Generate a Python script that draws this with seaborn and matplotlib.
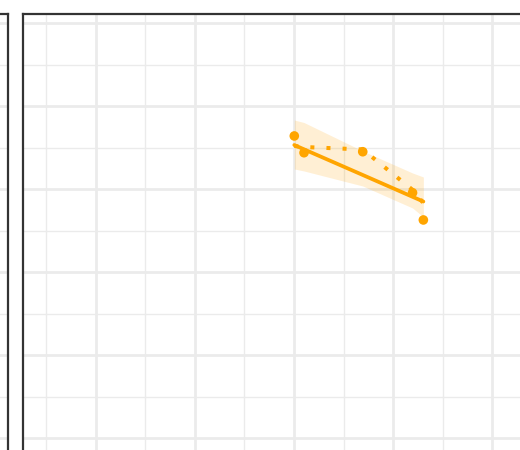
import numpy as np
import pandas as pd
import matplotlib
matplotlib.use("Agg")
import matplotlib.pyplot as plt
from matplotlib.ticker import MultipleLocator
import seaborn as sns

# Observations in the right-hand facet
x_vals = [3.003, 3.101, 3.693, 4.195, 4.304]
y_vals = [3.639, 3.437, 3.449, 2.955, 2.627]

# Linear fit and its confidence band at the observed x positions
fit_vals = [3.530, 3.478, 3.169, 2.906, 2.849]
band_lo = [3.241, 3.217, 3.036, 2.771, 2.663]
band_hi = [3.831, 3.801, 3.458, 3.193, 3.145]

# Local (lowess) trend at the observed x positions
trend_vals = [3.518, 3.506, 3.476, 2.990, 2.831]

pts = pd.DataFrame({"x": x_vals, "y": y_vals})
fit = pd.DataFrame({"x": x_vals, "fit": fit_vals, "lo": band_lo,
                    "hi": band_hi, "trend": trend_vals})

sns.set_theme(style="white")
plt.rcParams["font.family"] = ["DejaVu Sans"]

W, H, DPI = 520, 450, 100
fig = plt.figure(figsize=(W / DPI, H / DPI), dpi=DPI)

# pixel -> data mapping for the facet scales
px_per_x = 99.2
px_per_y = 83.0
x_ref_px, x_ref_val = 294.0, 3.0
y_ref_px, y_ref_val = 438.0, 0.0

def px_to_x(p):
    return x_ref_val + (p - x_ref_px) / px_per_x

def py_to_y(p):
    return y_ref_val + (y_ref_px - p) / px_per_y

top_px = 14.0
bot_px = 560.0

def add_panel(left_px, right_px):
    ax = fig.add_axes([left_px / W, 1 - bot_px / H,
                       (right_px - left_px) / W, (bot_px - top_px) / H])
    ax.set_xlim(px_to_x(left_px), px_to_x(right_px))
    ax.set_ylim(py_to_y(bot_px), py_to_y(top_px))
    ax.xaxis.set_major_locator(MultipleLocator(1))
    ax.xaxis.set_minor_locator(MultipleLocator(0.5))
    ax.yaxis.set_major_locator(MultipleLocator(1))
    ax.yaxis.set_minor_locator(MultipleLocator(0.5))
    ax.grid(which="major", color="#ebebeb", linewidth=2.0)
    ax.grid(which="minor", color="#ebebeb", linewidth=1.0)
    ax.set_axisbelow(True)
    ax.tick_params(which="both", length=0, labelbottom=False, labelleft=False)
    for s in ax.spines.values():
        s.set_color("#333333")
        s.set_linewidth(1.6)
    return ax

ax_left = add_panel(-500.0, 7.5)
ax_right = add_panel(23.0, 700.0)

orange = "#FFA500"

# confidence band
ax_right.fill_between(fit["x"], fit["lo"], fit["hi"], color=orange,
                      alpha=0.17, linewidth=0, zorder=2)

# linear fit
sns.lineplot(data=fit, x="x", y="fit", ax=ax_right, color=orange,
             linewidth=2.7, zorder=3, legend=False)

# lowess trend, dotted
sns.lineplot(data=fit, x="x", y="trend", ax=ax_right, color=orange,
             linewidth=2.9, linestyle=(0, (1, 3)), dash_capstyle="butt",
             zorder=3, legend=False)

sns.scatterplot(data=pts, x="x", y="y", ax=ax_right, color=orange,
                s=48, edgecolor="none", zorder=5, legend=False)

ax_right.set_xlabel("")
ax_right.set_ylabel("")

fig.savefig("out.png", dpi=DPI)
